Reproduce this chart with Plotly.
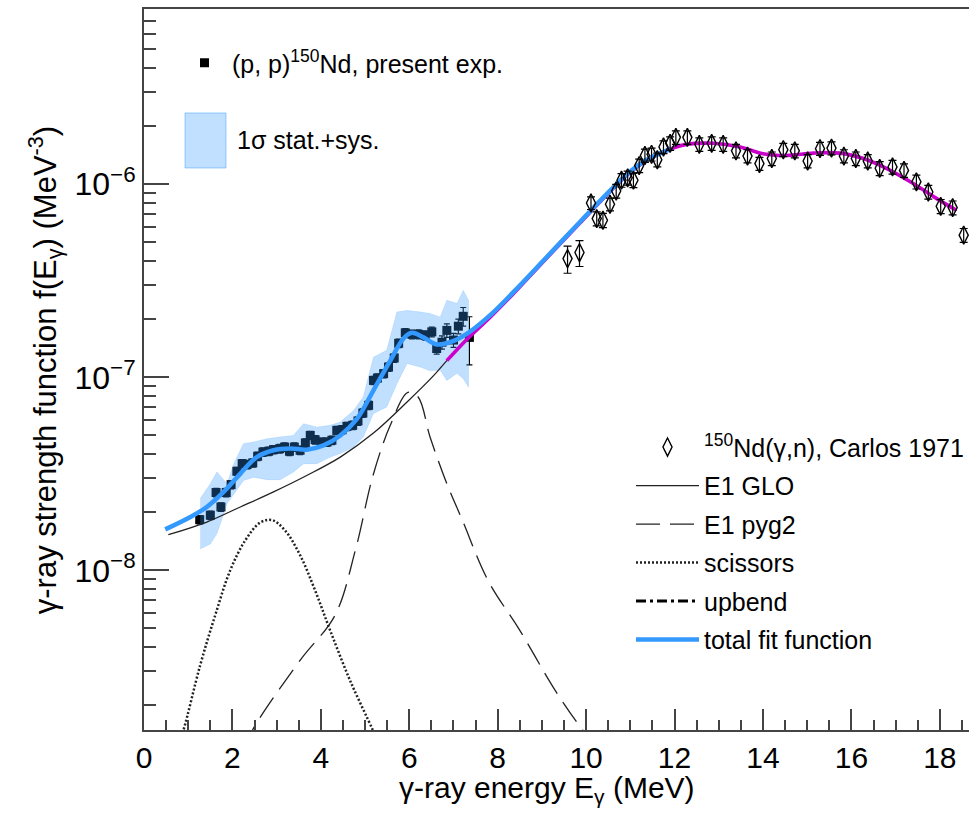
import plotly.graph_objects as go

# ---------------- data ----------------
oslo_E = [1.26, 1.50, 1.63, 1.74, 1.86, 1.97, 2.10, 2.22, 2.33, 2.46, 2.57, 2.69, 2.82, 2.93, 3.07,
          3.18, 3.29, 3.40, 3.53, 3.65, 3.76, 3.87, 4.02, 4.14, 4.25, 4.36, 4.48, 4.59, 4.72, 4.84,
          4.95, 5.08, 5.19, 5.28, 5.42, 5.53, 5.66, 5.76, 5.91, 6.06, 6.21, 6.36, 6.51, 6.62, 6.74,
          6.85, 7.00, 7.11, 7.22, 7.36]
oslo_f = [1.83e-8, 1.93e-8, 2.53e-8, 2.13e-8, 2.53e-8, 2.78e-8, 3.26e-8, 3.57e-8, 3.53e-8, 3.60e-8,
          3.90e-8, 4.10e-8, 4.14e-8, 4.22e-8, 4.27e-8, 4.35e-8, 4.14e-8, 4.35e-8, 4.19e-8, 4.57e-8,
          5.00e-8, 4.75e-8, 4.62e-8, 4.62e-8, 4.72e-8, 5.31e-8, 5.35e-8, 5.57e-8, 5.64e-8, 5.94e-8,
          6.53e-8, 7.16e-8, 9.64e-8, 9.91e-8, 1.045e-7, 1.13e-7, 1.26e-7, 1.50e-7, 1.70e-7, 1.67e-7,
          1.67e-7, 1.65e-7, 1.72e-7, 1.41e-7, 1.52e-7, 1.75e-7, 1.56e-7, 1.84e-7, 2.07e-7, 1.61e-7]
oslo_err = [0.09e-8, 0.10e-8, 0.13e-8, 0.11e-8, 0.13e-8, 0.14e-8, 0.16e-8, 0.18e-8, 0.18e-8, 0.18e-8,
            0.20e-8, 0.21e-8, 0.21e-8, 0.21e-8, 0.22e-8, 0.22e-8, 0.21e-8, 0.22e-8, 0.21e-8, 0.23e-8,
            0.25e-8, 0.24e-8, 0.23e-8, 0.23e-8, 0.24e-8, 0.27e-8, 0.27e-8, 0.28e-8, 0.29e-8, 0.30e-8,
            0.33e-8, 0.36e-8, 0.48e-8, 0.50e-8, 0.53e-8, 0.57e-8, 0.64e-8, 0.76e-8, 0.87e-8, 0.88e-8,
            0.90e-8, 0.92e-8, 1.0e-8, 0.9e-8, 1.2e-8, 1.4e-8, 1.3e-8, 1.6e-8, 2.3e-8, 4.5e-8]

band_E = [1.27, 1.50, 1.65, 1.88, 2.03, 2.25, 2.48, 2.78, 3.08, 3.38, 3.61, 3.91, 4.21, 4.44,
          4.74, 4.96, 5.19, 5.49, 5.72, 5.95, 6.25, 6.47, 6.70, 6.85, 7.08, 7.22, 7.34]
band_hi = [2.35e-8, 2.81e-8, 3.23e-8, 2.81e-8, 3.57e-8, 4.53e-8, 4.62e-8, 4.81e-8, 4.91e-8, 5.00e-8,
           5.75e-8, 5.52e-8, 5.64e-8, 5.86e-8, 6.74e-8, 7.91e-8, 1.27e-7, 1.38e-7, 2.18e-7, 2.22e-7,
           2.18e-7, 2.14e-7, 2.05e-7, 2.51e-7, 2.41e-7, 2.82e-7, 2.51e-7]
band_lo = [1.29e-8, 1.37e-8, 1.55e-8, 2.22e-8, 2.50e-8, 2.92e-8, 3.04e-8, 2.95e-8, 2.95e-8, 3.23e-8,
           3.57e-8, 3.57e-8, 3.86e-8, 4.03e-8, 4.35e-8, 4.91e-8, 6.49e-8, 7.02e-8, 9.27e-8, 1.18e-7,
           1.13e-7, 1.08e-7, 1.09e-7, 9.64e-8, 1.05e-7, 9.84e-8, 8.91e-8]

carlos_E = [9.58, 9.85, 10.11, 10.24, 10.38, 10.54, 10.68, 10.80, 10.94, 11.07, 11.20, 11.33, 11.48,
            11.61, 11.75, 11.90, 12.03, 12.29, 12.56, 12.84, 13.10, 13.39, 13.65, 13.92, 14.20, 14.46,
            14.72, 15.01, 15.29, 15.55, 15.83, 16.10, 16.37, 16.64, 16.93, 17.19, 17.47, 17.74, 18.02,
            18.29, 18.54]
carlos_f = [4.12e-7, 4.43e-7, 8.0e-7, 6.64e-7, 6.51e-7, 7.88e-7, 9.23e-7, 1.05e-6, 1.08e-6, 1.05e-6,
            1.25e-6, 1.41e-6, 1.43e-6, 1.34e-6, 1.56e-6, 1.63e-6, 1.75e-6, 1.75e-6, 1.61e-6, 1.63e-6,
            1.61e-6, 1.49e-6, 1.40e-6, 1.28e-6, 1.36e-6, 1.51e-6, 1.49e-6, 1.32e-6, 1.53e-6, 1.54e-6,
            1.40e-6, 1.36e-6, 1.32e-6, 1.21e-6, 1.23e-6, 1.18e-6, 1.03e-6, 9.12e-7, 7.69e-7, 7.57e-7,
            5.45e-7]
carlos_err = [0.66e-7, 0.68e-7, 0.6e-7, 0.55e-7, 0.55e-7, 0.6e-7, 0.75e-7, 0.85e-7, 0.9e-7, 0.9e-7,
              1.0e-7, 1.1e-7, 1.1e-7, 1.1e-7, 1.2e-7, 1.3e-7, 1.4e-7, 1.4e-7, 1.3e-7, 1.3e-7,
              1.3e-7, 1.2e-7, 1.1e-7, 1.0e-7, 1.1e-7, 1.2e-7, 1.2e-7, 1.05e-7, 1.2e-7, 1.2e-7,
              1.1e-7, 1.1e-7, 1.05e-7, 1.0e-7, 1.0e-7, 0.95e-7, 0.85e-7, 0.75e-7, 0.65e-7, 0.62e-7,
              0.45e-7]

total_E = [0.48, 1.05, 1.42, 1.80, 2.18, 2.55, 2.93, 3.31, 3.68, 4.06, 4.44, 4.82, 5.19, 5.57, 5.87,
           6.06, 6.32, 6.62, 6.92, 7.30, 7.83, 8.36, 9.11, 9.86, 10.61, 10.99, 11.37, 11.93]
total_f = [1.63e-8, 1.89e-8, 2.13e-8, 2.55e-8, 3.17e-8, 3.86e-8, 4.19e-8, 4.28e-8, 4.22e-8, 4.44e-8,
           5.00e-8, 6.11e-8, 8.57e-8, 1.22e-7, 1.59e-7, 1.70e-7, 1.61e-7, 1.48e-7, 1.52e-7, 1.68e-7,
           2.10e-7, 2.77e-7, 4.20e-7, 6.38e-7, 9.61e-7, 1.16e-6, 1.34e-6, 1.53e-6]

gdr_E = [6.85, 7.30, 7.83, 8.36, 9.11, 9.86, 10.61, 10.99, 11.37, 11.93, 12.27, 12.88, 13.48, 14.00,
         14.53, 15.14, 15.74, 16.27, 16.79, 17.40, 17.93, 18.38]
gdr_f = [1.22e-7, 1.57e-7, 2.05e-7, 2.72e-7, 4.15e-7, 6.30e-7, 9.50e-7, 1.15e-6, 1.33e-6, 1.53e-6,
         1.61e-6, 1.63e-6, 1.56e-6, 1.44e-6, 1.41e-6, 1.45e-6, 1.45e-6, 1.36e-6, 1.21e-6, 1.01e-6,
         8.43e-7, 7.33e-7]

glo_E = [0.55, 1.42, 2.18, 2.93, 3.68, 4.44, 5.19, 5.95, 6.55] + gdr_E
glo_f = [1.53e-8, 1.78e-8, 2.13e-8, 2.55e-8, 3.10e-8, 3.86e-8, 5.14e-8, 7.45e-8, 1.02e-7] + gdr_f

pyg_E = [2.30, 2.45, 3.53, 4.32, 4.78, 5.18, 5.57, 5.97, 6.20, 6.47, 6.85, 7.20, 7.78, 8.50, 9.30,
         9.93, 10.2]
pyg_f = [1.2e-9, 1.48e-9, 3.42e-9, 5.85e-9, 1.27e-8, 3.10e-8, 5.64e-8, 8.35e-8, 7.91e-8, 4.91e-8,
         2.81e-8, 1.82e-8, 8.87e-9, 4.89e-9, 2.39e-9, 1.48e-9, 1.25e-9]

sc_E = [0.75, 0.89, 1.27, 1.61, 1.95, 2.29, 2.63, 2.90, 3.19, 3.53, 3.87, 4.21, 4.66, 5.18, 5.35]
sc_f = [1.2e-9, 1.48e-9, 3.22e-9, 5.85e-9, 1.0e-8, 1.43e-8, 1.77e-8, 1.82e-8, 1.61e-8, 1.20e-8,
        7.87e-9, 4.89e-9, 2.69e-9, 1.48e-9, 1.2e-9]

# upbend lies below the displayed range (only visible in the legend)
upbend_E = [0.5, 1.0, 1.5, 2.0]
upbend_f = [1.0e-9, 5.0e-10, 2.5e-10, 1.2e-10]

x_ticks = [0, 2, 4, 6, 8, 10, 12, 14, 16, 18]
y_ticks = [1e-8, 1e-7, 1e-6]
y_ticktext = ["10<sup>\u22128</sup>", "10<sup>\u22127</sup>", "10<sup>\u22126</sup>"]

FONT = "Liberation Sans, Arial, Helvetica, sans-serif"
AX = "#444444"
BAND_FILL = "rgba(51,153,255,0.30)"

fig = go.Figure()

fig.add_trace(go.Scatter(
    x=oslo_E, y=oslo_f, mode="markers",
    marker=dict(symbol="square", size=9, color="black"),
    error_y=dict(type="data", array=oslo_err, color="black", thickness=1.2, width=3),
    name="(p, p)<sup>150</sup>Nd, present exp.", legend="legend",
))
fig.add_trace(go.Scatter(
    x=band_E + band_E[::-1], y=band_hi + band_lo[::-1],
    fill="toself", fillcolor=BAND_FILL, mode="lines",
    line=dict(width=0.5, color="rgba(51,153,255,0.35)"),
    showlegend=False, hoverinfo="skip",
))
fig.add_trace(go.Scatter(
    x=glo_E, y=glo_f, mode="lines", line=dict(color="#222222", width=1.3, shape="spline"),
    name="E1 GLO", legend="legend2", legendgroup="b", legendrank=2,
))
fig.add_trace(go.Scatter(
    x=gdr_E, y=gdr_f, mode="lines", line=dict(color="#cc00cc", width=3.6, shape="spline"),
    showlegend=False,
))
fig.add_trace(go.Scatter(
    x=pyg_E, y=pyg_f, mode="lines",
    line=dict(color="#222222", width=1.3, dash="24px,10px", shape="spline"),
    name="E1 pyg2", legend="legend2", legendgroup="c", legendrank=3,
))
fig.add_trace(go.Scatter(
    x=sc_E, y=sc_f, mode="lines",
    line=dict(color="#222222", width=2.5, dash="2px,2px", shape="spline"),
    name="scissors", legend="legend2", legendgroup="d", legendrank=4,
))
fig.add_trace(go.Scatter(
    x=upbend_E, y=upbend_f, mode="lines",
    line=dict(color="black", width=3, dash="10px,4px,3px,4px"),
    name="upbend", legend="legend2", legendgroup="e", legendrank=5,
))
fig.add_trace(go.Scatter(
    x=total_E, y=total_f, mode="lines", line=dict(color="#3399ff", width=4.5, shape="spline"),
    name="total fit function", legend="legend2", legendgroup="f", legendrank=6,
))
fig.add_trace(go.Scatter(
    x=carlos_E, y=carlos_f, mode="markers",
    marker=dict(symbol="diamond-tall-open", size=13, color="black", line=dict(width=1.4, color="black")),
    error_y=dict(type="data", array=carlos_err, color="black", thickness=1.2, width=4),
    name="<sup>150</sup>Nd(\u03b3,n), Carlos 1971", legend="legend2", legendgroup="a", legendrank=1,
))

fig.update_layout(
    width=969, height=814,
    margin=dict(l=144, r=0, t=9, b=84),
    paper_bgcolor="white", plot_bgcolor="white",
    font=dict(family=FONT, color="black", size=25),
    xaxis=dict(
        range=[0, 18.66], tickvals=x_ticks, ticks="inside", ticklen=21, tickwidth=1.5, tickcolor=AX,
        showline=True, linecolor=AX, linewidth=2, mirror=True, showgrid=False, zeroline=False,
        tickfont=dict(size=30, family=FONT),
        minor=dict(dtick=0.5, tick0=0, ticks="inside", ticklen=10, tickwidth=1.5, tickcolor=AX),
    ),
    yaxis=dict(
        type="log", range=[-8.827, -5.092], tickvals=y_ticks, ticktext=y_ticktext,
        ticks="inside", ticklen=25, tickwidth=1.5, tickcolor=AX,
        showline=True, linecolor=AX, linewidth=2, showgrid=False, zeroline=False,
        tickfont=dict(size=32, family=FONT),
        minor=dict(tickvals=[m * 10.0 ** e for e in (-9, -8, -7, -6) for m in range(2, 10)],
                   ticks="inside", ticklen=12, tickwidth=1.5, tickcolor=AX),
    ),
    legend=dict(
        x=0.04, y=0.957, xanchor="left", yanchor="top", bgcolor="rgba(0,0,0,0)",
        font=dict(size=25, family=FONT), itemwidth=45, traceorder="normal",
    ),
    legend2=dict(
        x=1.0, y=0.424, xanchor="right", yanchor="top", bgcolor="rgba(0,0,0,0)",
        font=dict(size=25, family=FONT), itemwidth=63, traceorder="grouped", tracegroupgap=3,
    ),
    shapes=[
        dict(type="rect", xref="paper", yref="paper", x0=0.0497, x1=0.0994, y0=0.7795, y1=0.8558,
             fillcolor=BAND_FILL, line=dict(color="rgba(51,153,255,0.45)", width=1)),
    ],
    annotations=[
        dict(text="1\u03c3 stat.+sys.", x=0.110, y=0.818, xref="paper", yref="paper",
             xanchor="left", yanchor="middle", showarrow=False, font=dict(size=25, family=FONT)),
        dict(text="\u03b3-ray energy E<sub>\u03b3</sub> (MeV)", x=0.488, y=-0.054, xref="paper", yref="paper",
             xanchor="center", yanchor="top", showarrow=False, font=dict(size=30, family=FONT)),
        dict(text="\u03b3-ray strength function f(E<sub>\u03b3</sub>) (MeV<sup>-3</sup>)",
             x=-0.12, y=0.499, xref="paper", yref="paper", textangle=-90,
             xanchor="center", yanchor="middle", showarrow=False, font=dict(size=31, family=FONT)),
    ],
)

fig.write_html("out.html")
